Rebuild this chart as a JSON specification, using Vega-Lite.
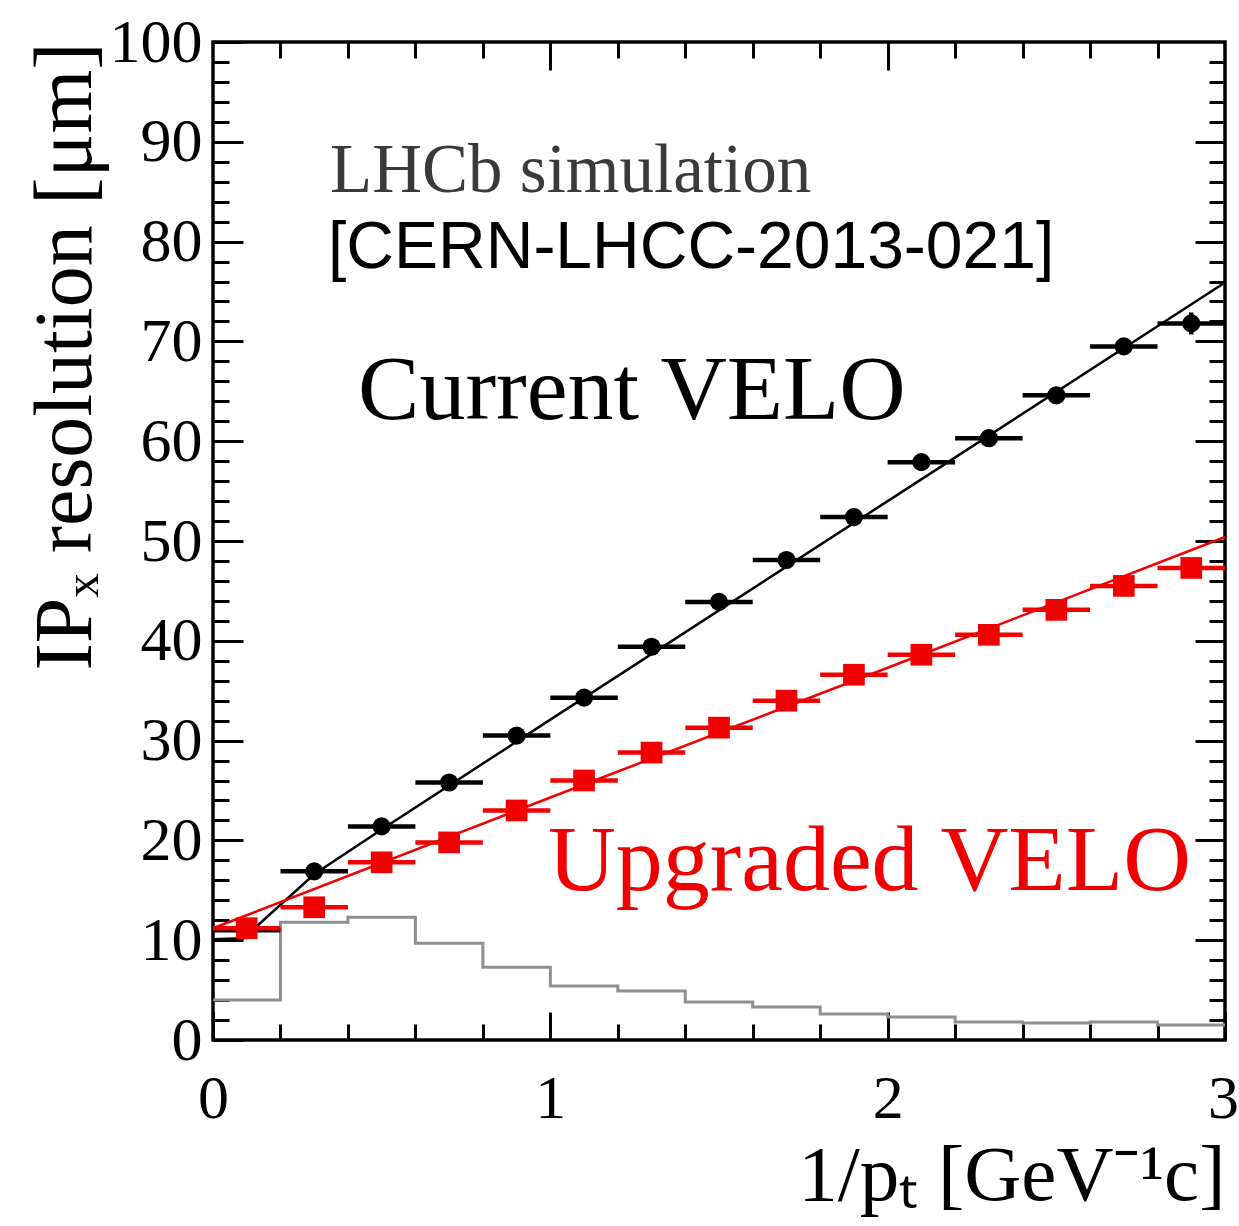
{
  "$schema": "https://vega.github.io/schema/vega-lite/v6.json",
  "width": 1012,
  "height": 998,
  "autosize": {"type": "none"},
  "padding": {"left": 213, "top": 42, "right": 14, "bottom": 186},
  "background": "white",
  "config": {
    "view": {"stroke": "black", "strokeWidth": 3.5},
    "axis": {"grid": false, "domain": false, "tickColor": "black", "tickWidth": 3,
      "labelFont": "Liberation Serif", "labelFontSize": 62, "labelColor": "black",
      "titleFont": "Liberation Serif", "titleColor": "black", "titleFontWeight": "normal"}
  },
  "datasets": {
    "hist": [
      {"x": 0.0, "y": 4.0}, {"x": 0.2, "y": 11.8}, {"x": 0.4, "y": 12.3}, {"x": 0.6, "y": 9.7},
      {"x": 0.8, "y": 7.3}, {"x": 1.0, "y": 5.4}, {"x": 1.2, "y": 4.9}, {"x": 1.4, "y": 3.8},
      {"x": 1.6, "y": 3.3}, {"x": 1.8, "y": 2.6}, {"x": 2.0, "y": 2.3}, {"x": 2.2, "y": 1.8},
      {"x": 2.4, "y": 1.7}, {"x": 2.6, "y": 1.8}, {"x": 2.8, "y": 1.5}, {"x": 3.0, "y": 1.5}
    ],
    "fitBlack": [
      {"x": 0.0, "y": 10.1}, {"x": 0.09, "y": 10.2}, {"x": 0.11, "y": 10.8}, {"x": 0.3, "y": 16.6},
      {"x": 0.5, "y": 21.1}, {"x": 1.0, "y": 32.1}, {"x": 2.0, "y": 54.0}, {"x": 3.0, "y": 75.9}
    ],
    "fitRed": [
      {"x": 0.0, "y": 11.2}, {"x": 1.0, "y": 24.3}, {"x": 2.0, "y": 37.3}, {"x": 3.0, "y": 50.4}
    ],
    "current": [
      {"x": 0.1, "xlo": 0.0, "xhi": 0.2, "y": 11.0, "ylo": 10.8, "yhi": 11.2},
      {"x": 0.3, "xlo": 0.2, "xhi": 0.4, "y": 16.9, "ylo": 16.7, "yhi": 17.1},
      {"x": 0.5, "xlo": 0.4, "xhi": 0.6, "y": 21.4, "ylo": 21.2, "yhi": 21.6},
      {"x": 0.7, "xlo": 0.6, "xhi": 0.8, "y": 25.8, "ylo": 25.6, "yhi": 26.0},
      {"x": 0.9, "xlo": 0.8, "xhi": 1.0, "y": 30.5, "ylo": 30.3, "yhi": 30.7},
      {"x": 1.1, "xlo": 1.0, "xhi": 1.2, "y": 34.3, "ylo": 34.0, "yhi": 34.6},
      {"x": 1.3, "xlo": 1.2, "xhi": 1.4, "y": 39.4, "ylo": 39.1, "yhi": 39.7},
      {"x": 1.5, "xlo": 1.4, "xhi": 1.6, "y": 43.9, "ylo": 43.6, "yhi": 44.2},
      {"x": 1.7, "xlo": 1.6, "xhi": 1.8, "y": 48.1, "ylo": 47.8, "yhi": 48.4},
      {"x": 1.9, "xlo": 1.8, "xhi": 2.0, "y": 52.4, "ylo": 52.0, "yhi": 52.8},
      {"x": 2.1, "xlo": 2.0, "xhi": 2.2, "y": 57.9, "ylo": 57.4, "yhi": 58.4},
      {"x": 2.3, "xlo": 2.2, "xhi": 2.4, "y": 60.3, "ylo": 59.8, "yhi": 60.8},
      {"x": 2.5, "xlo": 2.4, "xhi": 2.6, "y": 64.6, "ylo": 64.0, "yhi": 65.2},
      {"x": 2.7, "xlo": 2.6, "xhi": 2.8, "y": 69.5, "ylo": 68.7, "yhi": 70.3},
      {"x": 2.9, "xlo": 2.8, "xhi": 3.0, "y": 71.8, "ylo": 70.7, "yhi": 72.9}
    ],
    "upgraded": [
      {"x": 0.1, "xlo": 0.0, "xhi": 0.2, "y": 11.2, "ylo": 11.0, "yhi": 11.4},
      {"x": 0.3, "xlo": 0.2, "xhi": 0.4, "y": 13.3, "ylo": 13.1, "yhi": 13.5},
      {"x": 0.5, "xlo": 0.4, "xhi": 0.6, "y": 17.8, "ylo": 17.6, "yhi": 18.0},
      {"x": 0.7, "xlo": 0.6, "xhi": 0.8, "y": 19.8, "ylo": 19.6, "yhi": 20.0},
      {"x": 0.9, "xlo": 0.8, "xhi": 1.0, "y": 23.0, "ylo": 22.8, "yhi": 23.2},
      {"x": 1.1, "xlo": 1.0, "xhi": 1.2, "y": 26.0, "ylo": 25.8, "yhi": 26.2},
      {"x": 1.3, "xlo": 1.2, "xhi": 1.4, "y": 28.8, "ylo": 28.6, "yhi": 29.0},
      {"x": 1.5, "xlo": 1.4, "xhi": 1.6, "y": 31.3, "ylo": 31.0, "yhi": 31.6},
      {"x": 1.7, "xlo": 1.6, "xhi": 1.8, "y": 34.0, "ylo": 33.7, "yhi": 34.3},
      {"x": 1.9, "xlo": 1.8, "xhi": 2.0, "y": 36.6, "ylo": 36.3, "yhi": 36.9},
      {"x": 2.1, "xlo": 2.0, "xhi": 2.2, "y": 38.6, "ylo": 38.3, "yhi": 38.9},
      {"x": 2.3, "xlo": 2.2, "xhi": 2.4, "y": 40.6, "ylo": 40.2, "yhi": 41.0},
      {"x": 2.5, "xlo": 2.4, "xhi": 2.6, "y": 43.1, "ylo": 42.7, "yhi": 43.5},
      {"x": 2.7, "xlo": 2.6, "xhi": 2.8, "y": 45.5, "ylo": 45.0, "yhi": 46.0},
      {"x": 2.9, "xlo": 2.8, "xhi": 3.0, "y": 47.3, "ylo": 46.7, "yhi": 47.9}
    ]
  },
  "resolve": {"axis": {"x": "independent", "y": "independent"}},
  "layer": [
    {
      "data": {"name": "hist"},
      "mark": {"type": "line", "interpolate": "step-after", "color": "#8f8f8f", "strokeWidth": 3},
      "encoding": {
        "x": {"field": "x", "type": "quantitative",
          "scale": {"domain": [0, 3], "nice": false, "zero": false},
          "axis": {"orient": "bottom", "values": [0, 1, 2, 3], "tickSize": -28, "labelPadding": 56,
            "labelFlush": false, "labelOverlap": false,
            "labelOffset": {"condition": {"test": "datum.value == 3", "value": -2}, "value": 0},
            "title": "1/pₜ [GeV⁻¹c]", "titleAnchor": "end", "titleFontSize": 79, "titlePadding": 8}},
        "y": {"field": "y", "type": "quantitative",
          "scale": {"domain": [0, 100], "nice": false, "zero": false},
          "axis": {"orient": "left", "values": [0, 10, 20, 30, 40, 50, 60, 70, 80, 90, 100], "tickSize": -30,
            "labelPadding": 41, "labelFlush": false, "labelOverlap": false,
            "title": "IPₓ resolution [μm]", "titleAnchor": "end", "titleFontSize": 82, "titlePadding": 2}}
      }
    },
    {
      "data": {"name": "fitBlack"},
      "mark": {"type": "line", "color": "black", "strokeWidth": 2.5},
      "encoding": {
        "x": {"field": "x", "type": "quantitative",
          "axis": {"orient": "bottom", "values": [0.2, 0.4, 0.6, 0.8, 1.2, 1.4, 1.6, 1.8, 2.2, 2.4, 2.6, 2.8],
            "tickSize": -16, "labels": false, "title": null}},
        "y": {"field": "y", "type": "quantitative",
          "axis": {"orient": "left", "values": [2, 4, 6, 8, 12, 14, 16, 18, 22, 24, 26, 28, 32, 34, 36, 38, 42, 44, 46, 48, 52, 54, 56, 58, 62, 64, 66, 68, 72, 74, 76, 78, 82, 84, 86, 88, 92, 94, 96, 98],
            "tickSize": -16, "labels": false, "title": null}}
      }
    },
    {
      "data": {"name": "fitRed"},
      "mark": {"type": "line", "color": "#f00000", "strokeWidth": 2.5},
      "encoding": {
        "x": {"field": "x", "type": "quantitative",
          "axis": {"orient": "top", "values": [1, 2], "tickSize": -28, "labels": false, "title": null}},
        "y": {"field": "y", "type": "quantitative",
          "axis": {"orient": "right", "values": [10, 20, 30, 40, 50, 60, 70, 80, 90], "tickSize": -30, "labels": false, "title": null}}
      }
    },
    {
      "data": {"name": "current"},
      "mark": {"type": "rule", "color": "black", "strokeWidth": 4.5},
      "encoding": {
        "x": {"field": "xlo", "type": "quantitative",
          "axis": {"orient": "top", "values": [0.2, 0.4, 0.6, 0.8, 1.2, 1.4, 1.6, 1.8, 2.2, 2.4, 2.6, 2.8],
            "tickSize": -16, "labels": false, "title": null}},
        "x2": {"field": "xhi"},
        "y": {"field": "y", "type": "quantitative",
          "axis": {"orient": "right", "values": [2, 4, 6, 8, 12, 14, 16, 18, 22, 24, 26, 28, 32, 34, 36, 38, 42, 44, 46, 48, 52, 54, 56, 58, 62, 64, 66, 68, 72, 74, 76, 78, 82, 84, 86, 88, 92, 94, 96, 98],
            "tickSize": -16, "labels": false, "title": null}}
      }
    },
    {
      "data": {"name": "current"},
      "mark": {"type": "rule", "color": "black", "strokeWidth": 4.5},
      "encoding": {
        "x": {"field": "x", "type": "quantitative", "axis": null},
        "y": {"field": "ylo", "type": "quantitative", "axis": null},
        "y2": {"field": "yhi"}
      }
    },
    {
      "data": {"name": "current"},
      "mark": {"type": "point", "shape": "circle", "filled": true, "color": "black", "size": 330, "opacity": 1},
      "encoding": {
        "x": {"field": "x", "type": "quantitative", "axis": null},
        "y": {"field": "y", "type": "quantitative", "axis": null}
      }
    },
    {
      "data": {"name": "upgraded"},
      "mark": {"type": "rule", "color": "#f00000", "strokeWidth": 4.5},
      "encoding": {
        "x": {"field": "xlo", "type": "quantitative", "axis": null},
        "x2": {"field": "xhi"},
        "y": {"field": "y", "type": "quantitative", "axis": null}
      }
    },
    {
      "data": {"name": "upgraded"},
      "mark": {"type": "point", "shape": "square", "filled": true, "color": "#f00000", "size": 470, "opacity": 1},
      "encoding": {
        "x": {"field": "x", "type": "quantitative", "axis": null},
        "y": {"field": "y", "type": "quantitative", "axis": null}
      }
    },
    {
      "data": {"values": [{"label": "LHCb simulation", "x": 0.347, "y": 85.0}]},
      "mark": {"type": "text", "align": "left", "baseline": "alphabetic", "font": "Liberation Serif", "fontSize": 69, "color": "#3a3a3a"},
      "encoding": {
        "x": {"field": "x", "type": "quantitative", "axis": null},
        "y": {"field": "y", "type": "quantitative", "axis": null},
        "text": {"field": "label"}
      }
    },
    {
      "data": {"values": [{"label": "[CERN-LHCC-2013-021]", "x": 0.341, "y": 77.4}]},
      "mark": {"type": "text", "align": "left", "baseline": "alphabetic", "font": "Liberation Sans", "fontSize": 66, "color": "black"},
      "encoding": {
        "x": {"field": "x", "type": "quantitative", "axis": null},
        "y": {"field": "y", "type": "quantitative", "axis": null},
        "text": {"field": "label"}
      }
    },
    {
      "data": {"values": [{"label": "Current VELO", "x": 0.43, "y": 62.2}]},
      "mark": {"type": "text", "align": "left", "baseline": "alphabetic", "font": "Liberation Serif", "fontSize": 92, "color": "black"},
      "encoding": {
        "x": {"field": "x", "type": "quantitative", "axis": null},
        "y": {"field": "y", "type": "quantitative", "axis": null},
        "text": {"field": "label"}
      }
    },
    {
      "data": {"values": [{"label": "Upgraded VELO", "x": 0.993, "y": 15.0}]},
      "mark": {"type": "text", "align": "left", "baseline": "alphabetic", "font": "Liberation Serif", "fontSize": 94, "color": "#f00000"},
      "encoding": {
        "x": {"field": "x", "type": "quantitative", "axis": null},
        "y": {"field": "y", "type": "quantitative", "axis": null},
        "text": {"field": "label"}
      }
    }
  ]
}
